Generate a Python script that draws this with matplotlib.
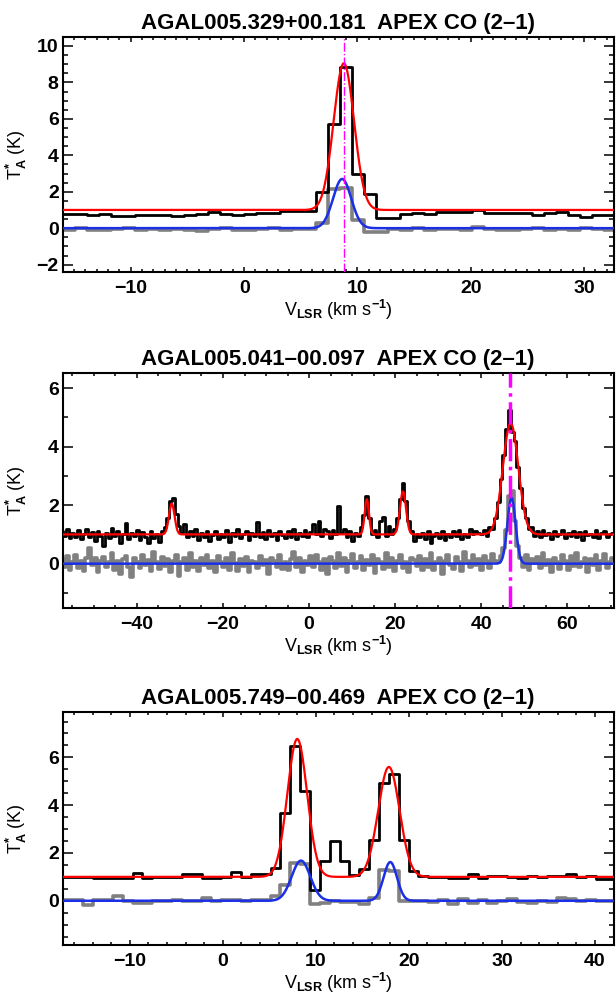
import numpy as np
import matplotlib
matplotlib.use('Agg')
import matplotlib.pyplot as plt
from matplotlib.ticker import MultipleLocator

plt.rcParams['font.family'] = ['Liberation Sans', 'DejaVu Sans']
plt.rcParams['font.weight'] = 'bold'
plt.rcParams['mathtext.fontset'] = 'custom'
plt.rcParams['mathtext.rm'] = 'Liberation Sans:bold'
plt.rcParams['mathtext.it'] = 'Liberation Sans:bold'
plt.rcParams['mathtext.bf'] = 'Liberation Sans:bold'

# ---- panel 1: AGAL005.329+00.181 ----
title1 = 'AGAL005.329+00.181  APEX CO (2\u20131)'
v0_1, dv_1 = -16.48, 1.06
co_1 = [0.78, 0.78, 0.78, 0.72, 0.80, 0.68, 0.68, 0.70, 0.70, 0.72,
        0.66, 0.70, 0.78, 0.88, 0.80, 0.72, 0.80, 0.86, 0.82, 0.92,
        0.92, 0.92, 2.00, 5.70, 8.86, 3.00, 1.85, 0.55, 0.55, 0.77,
        0.84, 0.77, 0.88, 0.88, 0.88, 1.00, 0.86, 0.84, 0.84, 0.84,
        0.71, 0.84, 0.88, 0.71, 0.62, 0.71, 0.71, 0.72]
iso_1 = [-0.05, -0.10, 0.00, -0.08, -0.12, -0.05, 0.02, -0.10, -0.05, -0.12,
         -0.02, -0.08, -0.15, -0.05, 0.00, -0.08, -0.12, -0.05, 0.02, -0.10,
         -0.05, -0.02, 0.30, 2.15, 2.20, 0.45, -0.20, -0.20, -0.05, -0.10,
         0.00, -0.08, -0.05, -0.02, -0.10, 0.05, -0.05, -0.08, -0.12, -0.05,
         0.00, -0.10, -0.05, -0.08, 0.02, -0.05, -0.08, -0.10]
co_fit_1 = {'cen': [8.8], 'amp': [8.05], 'sig': [0.9]}
iso_fit_1 = {'cen': [8.65], 'amp': [2.7], 'sig': [0.8]}
vlsr_1 = 8.8

# ---- panel 2: AGAL005.041-00.097 ----
title2 = 'AGAL005.041\u201300.097  APEX CO (2\u20131)'
v0_2, dv_2 = -57.5, 0.65
co_2 = [1.12, 0.95, 1.18, 0.88, 1.05, 0.92, 1.15, 0.85, 1.02, 1.20,
        0.90, 1.08, 0.78, 1.10, 0.95, 0.62, 1.05, 0.88, 1.22, 0.93,
        1.10, 0.70, 1.00, 1.38, 0.85, 1.05, 0.95, 1.15, 0.80, 1.08,
        0.92, 0.70, 1.12, 0.88, 1.02, 0.75, 1.10, 1.25, 1.55, 2.15,
        2.25, 1.70, 1.30, 1.05, 1.35, 0.90, 1.10, 0.95, 1.18, 0.82,
        1.05, 0.90, 1.12, 0.78, 0.98, 1.10, 0.85, 1.02, 0.92, 1.15,
        0.75, 1.05, 0.95, 1.20, 0.88, 1.00, 1.10, 0.82, 1.05, 0.95,
        1.42, 0.90, 1.08, 0.85, 1.15, 0.95, 1.05, 0.80, 1.12, 0.98,
        0.88, 1.10, 0.92, 1.20, 0.85, 1.05, 0.95, 1.15, 0.90, 1.08,
        1.35, 1.02, 1.45, 0.95, 1.20, 1.10, 0.88, 1.15, 1.02, 1.98,
        1.05, 1.20, 0.90, 1.10, 0.78, 1.05, 0.95, 1.25, 1.65, 2.30,
        1.55, 1.00, 1.15, 0.92, 1.45, 1.60, 0.95, 1.30, 1.02, 1.20,
        1.55, 2.20, 2.75, 2.15, 1.45, 1.10, 0.78, 1.00, 0.92, 1.05,
        0.85, 1.10, 0.72, 0.95, 1.05, 0.88, 1.12, 0.80, 1.00, 0.90,
        1.10, 0.95, 1.15, 0.85, 1.02, 0.92, 1.20, 1.00, 1.10, 1.05,
        1.00, 1.15, 0.95, 1.25, 1.20, 1.55, 2.10, 2.90, 3.70, 4.60,
        5.25, 4.50, 4.20, 3.30, 2.60, 1.90, 1.55, 1.20, 1.25, 0.95,
        1.10, 0.90, 1.15, 0.98, 1.05, 0.85, 1.12, 0.95, 1.00, 1.15,
        0.88, 1.05, 0.95, 1.12, 0.90, 1.08, 0.82, 1.10, 0.98, 1.02,
        0.92, 1.15, 0.88, 1.05, 1.10, 0.90, 1.00, 1.05]
iso_2 = [0.15, -0.10, 0.25, -0.20, 0.05, 0.30, -0.15, 0.10, -0.25, 0.20,
         0.55, -0.05, 0.18, -0.30, 0.10, 0.22, -0.12, 0.05, 0.35, -0.20,
         0.08, -0.35, 0.15, 0.25, -0.10, -0.45, 0.20, 0.05, -0.15, 0.30,
         -0.05, 0.12, -0.25, 0.40, 0.05, -0.18, 0.22, -0.08, 0.15, -0.30,
         0.10, 0.28, -0.42, 0.05, 0.18, -0.20, 0.35, -0.10, 0.08, -0.25,
         0.20, -0.05, 0.30, -0.15, 0.10, -0.30, 0.25, 0.05, -0.12, 0.18,
         -0.20, 0.38, 0.02, -0.25, 0.15, -0.08, 0.22, -0.30, 0.10, 0.05,
         -0.15, 0.25, -0.05, 0.12, -0.35, 0.20, 0.08, -0.10, 0.30, -0.18,
         0.05, -0.22, 0.15, 0.40, -0.10, 0.18, -0.30, 0.10, -0.05, 0.25,
         -0.12, 0.30, 0.05, -0.20, 0.15, -0.35, 0.22, 0.08, -0.15, 0.35,
         -0.08, 0.20, -0.28, 0.10, 0.32, -0.15, 0.05, 0.25, -0.20, 0.12,
         -0.05, 0.28, -0.32, 0.15, 0.05, -0.18, 0.38, -0.10, 0.20, -0.25,
         0.10, 0.30, -0.15, 0.05, -0.30, 0.20, 0.12, -0.08, 0.25, -0.20,
         0.15, -0.10, 0.35, -0.22, 0.05, 0.18, -0.35, 0.10, 0.28, -0.05,
         -0.18, 0.22, 0.05, -0.25, 0.40, 0.10, -0.12, 0.30, -0.05, 0.15,
         -0.20, 0.25, 0.08, -0.15, 0.32, 0.10, 0.05, 0.25, 0.55, 1.15,
         2.30, 2.50, 1.45, 0.60, 0.20, -0.10, 0.30, -0.20, 0.15, 0.05,
         0.22, -0.15, 0.35, -0.05, 0.12, -0.28, 0.20, 0.05, -0.18, 0.30,
         0.10, -0.22, 0.25, -0.08, 0.38, -0.12, 0.05, 0.20, -0.30, 0.15,
         -0.05, 0.28, -0.20, 0.10, 0.32, -0.15, 0.05, 0.20]
co_fit_2 = {'cen': [-31.9, 13.4, 21.8, 46.8], 'amp': [1.05, 1.2, 1.47, 3.8],
            'sig': [0.65, 0.5, 0.7, 1.8]}
iso_fit_2 = {'cen': [47.0], 'amp': [2.25], 'sig': [0.95]}
vlsr_2 = 46.7

# ---- panel 3: AGAL005.749-00.469 ----
title3 = 'AGAL005.749\u201300.469  APEX CO (2\u20131)'
v0_3, dv_3 = -17.66, 1.06
co_3 = [1.00, 1.00, 1.00, 1.00, 0.95, 0.95, 0.95, 0.95, 1.16, 0.95,
        1.00, 1.00, 1.00, 1.14, 1.14, 0.95, 0.95, 1.00, 1.20, 1.00,
        1.10, 1.10, 1.36, 3.69, 6.49, 4.58, 0.45, 1.65, 2.52, 1.65,
        1.09, 1.33, 2.56, 4.91, 5.29, 2.56, 1.23, 1.02, 1.00, 1.00,
        0.97, 0.95, 1.10, 0.95, 1.05, 1.05, 1.00, 0.95, 1.05, 1.00,
        1.02, 1.05, 1.10, 1.00, 1.02, 0.90, 0.90, 1.00]
iso_3 = [-0.03, 0.04, 0.04, -0.17, 0.04, 0.04, 0.18, -0.03, -0.10, -0.10,
         -0.03, -0.03, 0.04, -0.03, -0.03, 0.11, -0.03, 0.04, 0.04, 0.00,
         0.04, 0.04, 0.18, 0.65, 1.60, 1.55, -0.12, -0.10, 0.00, -0.05,
         -0.05, -0.15, 0.10, 1.30, 1.25, 0.00, -0.03, 0.00, -0.05, 0.02,
         -0.12, 0.08, -0.10, 0.05, -0.08, -0.03, 0.08, -0.05, -0.08, 0.00,
         -0.05, 0.12, 0.08, -0.03, 0.05, -0.02, 0.00, -0.03]
co_fit_3 = {'cen': [8.0, 17.85], 'amp': [5.77, 4.6], 'sig': [1.06, 1.15]}
iso_fit_3 = {'cen': [8.4, 18.0], 'amp': [1.68, 1.62], 'sig': [1.0, 0.72]}
vlsr_3 = None

panels = [
    (title1, v0_1, dv_1, co_1, iso_1, co_fit_1, iso_fit_1, vlsr_1,
     (-16.0, 32.6), (-2.4, 10.5), 10, 1, 2, 0.5, 1.0),
    (title2, v0_2, dv_2, co_2, iso_2, co_fit_2, iso_fit_2, vlsr_2,
     (-57.2, 70.7), (-1.5, 6.5), 20, 5, 2, 1, 2.5),
    (title3, v0_3, dv_3, co_3, iso_3, co_fit_3, iso_fit_3, vlsr_3,
     (-17.2, 42.0), (-1.85, 7.9), 10, 2, 2, 0.5, 1.0),
]
bottoms = [0.727, 0.390, 0.0512]
heights = [0.236, 0.235, 0.234]


def gauss_sum(v, fit):
    out = np.zeros_like(v)
    for c, a, s in zip(fit['cen'], fit['amp'], fit['sig']):
        out += a * np.exp(-0.5 * ((v - c) / s) ** 2)
    return out


fig = plt.figure(figsize=(6.16, 9.96), dpi=100)

for p, b, h in zip(panels, bottoms, heights):
    (title, v0, dv, co, iso, cofit, isofit, vlsr,
     xlim, ylim, xmaj, xmin_, ymaj, ymin_, vlw) = p
    ax = fig.add_axes([0.102, b, 0.894, h])
    v = v0 + dv * np.arange(len(co))
    vf = np.linspace(xlim[0], xlim[1], 1500)

    ax.step(v, co, where='mid', color='black', lw=2.0, zorder=2)
    ax.step(v, iso, where='mid', color='#808080', lw=2.6, zorder=1)
    ax.plot(vf, 1.0 + gauss_sum(vf, cofit), color='red', lw=1.6, zorder=3)
    ax.plot(vf, gauss_sum(vf, isofit), color='#1a2fe6', lw=1.8, zorder=3)
    if vlsr is not None:
        ax.axvline(vlsr, color='magenta', ls='-.', lw=vlw, zorder=4)

    ax.set_xlim(*xlim)
    ax.set_ylim(*ylim)
    ax.xaxis.set_major_locator(MultipleLocator(xmaj))
    ax.xaxis.set_minor_locator(MultipleLocator(xmin_))
    ax.yaxis.set_major_locator(MultipleLocator(ymaj))
    ax.yaxis.set_minor_locator(MultipleLocator(ymin_))
    ax.tick_params(axis='both', which='both', direction='in', top=True, right=True,
                   labelsize=14, width=1.1)
    ax.tick_params(axis='x', which='major', length=3.8, pad=6)
    ax.tick_params(axis='x', which='minor', length=1.9)
    ax.tick_params(axis='y', which='major', length=7.2, pad=3)
    ax.tick_params(axis='y', which='minor', length=3.6)
    for s in ax.spines.values():
        s.set_linewidth(1.5)

    ax.set_title(title, fontsize=16, fontweight='bold', pad=6)
    ax.set_xlabel(r'V$_{\rm LSR}$ (km s$^{-1}$)', fontsize=13)
    ax.set_ylabel(r'T$_{\rm A}^{*}$ (K)', fontsize=13)
    ax.xaxis.set_label_coords(0.5, -0.112)
    ax.yaxis.set_label_coords(-0.061, 0.5)

plt.savefig('out.png', dpi=100)
